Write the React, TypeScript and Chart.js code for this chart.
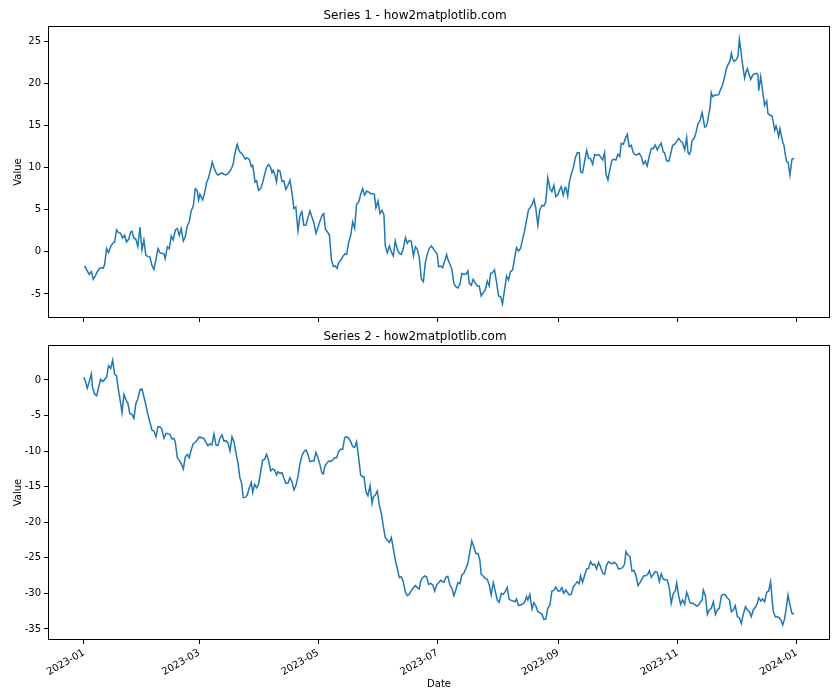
import React, { useEffect, useRef } from "react";
import { Chart, registerables } from "chart.js";

Chart.register(...registerables);

// ---- data (x = days since 2023-01-01) ----
const dateTickDays = [0, 59, 120, 181, 243, 304, 365];
const dateTickLabels = ["2023-01", "2023-03", "2023-05", "2023-07", "2023-09", "2023-11", "2024-01"];

const series1YTicks = [-5, 0, 5, 10, 15, 20, 25];
const series2YTicks = [-35, -30, -25, -20, -15, -10, -5, 0];

const series1Days = [
  0, 0.7, 1.7, 2.7, 3.8, 4.8, 5.8, 6.8, 7.9, 8.9, 9.9, 10.6, 11.6, 12.6, 13.7, 14.7, 15.7, 16.7, 17.7, 18.8,
  19.8, 20.8, 21.8, 22.9, 23.9, 24.6, 25.6, 26.6, 27.6, 28.7, 29.7, 30.7, 31.7, 32.8, 33.8, 34.8, 35.8, 36.9, 37.9, 38.9,
  39.9, 41, 41.6, 42.7, 43.7, 44.7, 45.7, 46.8, 47.8, 48.8, 49.8, 50.9, 51.9, 52.9, 53.9, 54.9, 56, 57, 58, 58.7,
  59.4, 60.8, 61.8, 62.8, 63.8, 64.9, 65.7, 66.6, 67.6, 68.6, 69.6, 70.7, 71.7, 72.7, 73.7, 74.8, 75.8, 76.5, 77.1, 77.8,
  78.5, 79.2, 79.9, 80.9, 81.9, 82.6, 83.3, 84.3, 85, 85.7, 86.4, 87, 87.6, 88.4, 89.4, 90.5, 91.5, 92.5, 93.5, 94.6,
  95.6, 96.3, 96.9, 97.6, 98.6, 99.3, 100.4, 101.4, 102.4, 103.4, 104.5, 105.5, 106.5, 107.5, 108.5, 109.6, 110.6, 111.6, 112.6, 113.7,
  114.7, 115.7, 116.7, 117.8, 118.8, 119.8, 120.8,
  121.9, 122.8, 123.6, 124.6, 125.7, 126.7, 127.7, 128.7, 129.6, 130.4, 131.5, 132.5, 133.5, 134.5, 135.6, 136.6, 137.6, 138.6, 139.6, 140.7,
  141.7, 142.7, 143.7, 144.8, 145.8, 146.8, 147.8, 148.7, 149.5, 150.6, 151.6, 152.6, 153.6, 154.3, 155.3, 156.4, 157.4, 158.4, 159.4, 160.5,
  161.5, 162.5, 163.5, 164.6, 165.6, 166.6, 167.6, 168.7, 169.7, 170.7, 171.7, 172.8, 173.8, 174.8, 175.8, 176.8, 177.9, 178.9, 179.9, 180.9,
  181.6, 182.6, 183.7,
  184.3, 185, 185.7, 186.3, 187.4, 188.4, 189.4, 190.4, 191.5, 192.5, 193.5, 194.5, 195.6, 196.6, 197.3, 198.3, 199.3, 200.3, 201.4, 202.4,
  203.4, 204.4, 205.5, 206.5, 207.5, 208.2, 209.2, 210.2, 211.3, 212.3, 213.3, 214.3, 215.4, 216.4, 217.4, 218.4, 219.5, 220.5, 221.5, 222.5,
  223.5, 224.6, 225.6, 226.6, 227.6, 228.7, 229.7, 230.4, 231.4, 232.4, 233.4, 234.5, 235.5, 236.5, 237.5, 238.6, 239.6, 240.6, 241.6, 242.7,
  243.7, 244.4, 245.4, 246.4,
  246.8, 247.7, 248.5, 249.5, 250.6, 251.6, 252.6, 253.6, 254.3, 255.3, 256.4, 257.4, 258.4, 259.4, 260.5, 261.5, 262.5, 263.5, 264.5, 265.6,
  266.6, 267.3, 268.3, 269.3, 270.4, 271.4, 272.4, 273.4, 274.4, 275.1, 276.2, 277.2, 278.2, 279.2, 280.2, 281.3, 282.3, 283.3, 284.3, 285.4,
  286.4, 287.4, 288.4, 289.5, 290.5, 291.5, 292.5, 293.6, 294.6, 295.6, 296.6, 297.3, 298.3, 299.4, 300.4, 301.4, 302.4, 303.5, 304.5, 305.5,
  306.5, 307.6, 308.6,
  309.3, 310, 310.7, 311.3, 312.4, 313.4, 314.4, 315.4, 316.5, 317.2, 317.8, 318.5, 319.2, 319.9, 320.6, 321.2, 321.9, 322.9, 324, 325,
  326, 327, 328.1, 329.1, 330.1, 330.8, 331.5, 332.2, 332.9, 333.9, 334.9, 335.6, 336.3, 337, 337.6, 338.3, 339, 339.7, 340.4, 341.4,
  342.4, 343.4, 344.5, 345.1, 345.5, 346.5, 347.5, 348.5, 349.6, 350.2, 351.3, 352.3, 353, 353.7, 354.4, 355, 355.7, 356.4, 357.1, 357.8,
  358.4, 359.1, 359.8, 360.5, 361.5, 362.5, 363.6,
];
const series1Values = [
  -1.76, -1.76, -2.27, -2.67, -2.35, -3.26, -2.87, -2.39, -2.0, -1.88, -1.96, -1.48, 0.38, -0.1, 0.61, 1.01, 1.17, 2.59, 2.27, 2.19,
  1.64, 1.96, 1.17, 1.48, 2.35, 2.43, 1.64, 1.48, 0.61, 2.94, 0.22, 1.4, -0.42, -0.57, -0.61, -1.6, -2.08, -0.89, 0.38, -0.1,
  -0.18, -0.26, -0.81, 0.61, 0.38, 1.88, 1.4, 2.59, 2.75, 1.96, 2.75, 1.28, 1.8, 3.06, 3.54, 4.84, 5.43, 7.49, 7.25, 6.15,
  6.82, 6.15, 7.02, 8.2, 8.79, 9.78, 10.65, 9.98, 9.39, 9.11, 9.23, 9.35, 9.19, 9.11, 9.27, 9.58, 10.02, 10.49, 11.44, 12.15,
  12.75, 12.15, 11.84, 11.64, 11.28, 10.97, 11.13, 11.05, 10.77, 10.1, 10.26, 9.39, 8.28, 8.44, 7.29, 7.49, 8.2, 9.15, 10.02, 10.34,
  9.98, 9.39, 9.66, 9.27, 8.28, 9.7, 9.55, 8.36, 8.4, 7.41, 7.89, 8.48, 7.02, 5.12, 5.32, 2.47, 4.25, 4.76, 3.14, 3.18,
  4.05, 4.84, 4.17, 3.38, 2.19, 2.87, 3.58,
  4.33, 4.53, 2.67, 2.39, 1.96, -0.89, -1.76, -1.68, -1.96, -1.28, -0.97, -0.57, -0.26, -0.3, 1.17, 1.96, 3.54, 2.79, 5.63, 5.91,
  6.82, 7.49, 6.74, 7.21, 7.09, 6.9, 6.9, 6.82, 5.24, 6.03, 4.53, 4.92, 4.37, 0.69, -0.1, 0.69, -0.02, -0.49, 1.28, 0.22,
  -0.18, -0.3, 0.38, 1.68, 1.01, 1.36, 1.25, -0.49, 0.61, 0.3, -0.69, -3.26, -3.54, -1.28, -0.3, 0.38, 0.69, 0.38, 0.02, -0.3,
  -1.76, -1.68, -1.88,
  -1.36, -0.89, -0.34, -0.89, -1.48, -2.08, -3.74, -4.13, -4.29, -3.89, -2.55, -2.67, -2.67, -2.27, -3.74, -3.97, -3.26, -3.66, -4.05, -4.05,
  -5.24, -4.84, -4.53, -3.46, -4.05, -2.55, -2.47, -2.15, -3.66, -5.24, -5.32, -6.19, -4.45, -2.87, -3.34, -2.35, -2.15, -0.77, 0.49, 0.1,
  0.38, 1.48, 2.47, 3.74, 4.96, 5.32, 5.71, 6.23, 5.12, 3.14, 4.96, 5.51, 5.43, 5.95, 8.79, 7.49, 7.13, 7.89, 6.54, 6.82,
  7.41, 7.73, 6.7, 7.65,
  7.61, 6.62, 8.2, 9.19, 9.98, 11.17, 11.76, 11.76, 9.47, 9.39, 10.77, 12.04, 11.09, 11.05, 10.38, 11.56, 11.44, 11.56, 11.28, 10.89,
  11.76, 9.19, 8.52, 9.78, 10.89, 10.97, 10.89, 11.56, 11.28, 12.87, 12.75, 13.42, 13.93, 12.47, 12.63, 11.76, 11.52, 11.52, 11.68, 11.28,
  10.42, 10.73, 10.18, 11.36, 12.27, 12.23, 12.67, 12.08, 12.55, 12.87, 11.84, 11.76, 10.81, 10.73, 11.56, 12.63, 12.75, 13.06, 13.46, 13.14,
  12.94, 12.08, 13.54,
  11.76, 11.56, 11.96, 13.14, 13.46, 14.13, 15.2, 15.51, 16.5, 15.71, 14.8, 14.84, 15.32, 16.3, 17.09, 18.87, 18.4, 18.56, 18.6, 18.64,
  19.27, 19.78, 20.85, 21.84, 22.35, 22.63, 23.54, 22.83, 22.59, 22.75, 23.22, 25.2, 24.01, 22.63, 21.64, 20.61, 21.32, 21.72, 21.17, 20.45,
  20.93, 21.13, 21.17, 20.93, 19.11, 20.77, 19.07, 17.37, 17.89, 16.42, 16.19, 16.11, 15.32, 14.41, 14.92, 14.45, 13.66, 14.6, 13.74, 13.02,
  12.67, 11.56, 10.69, 10.65, 9.11, 10.97, 11.09,
];

const series2Days = [
  0, 0.7, 1.7, 2.7, 3.8, 4.4, 5.5, 6.5, 7.5, 8.5, 9.6, 10.6, 11.6, 12.6, 13.7, 14.7, 15.7, 16.7, 17.4, 18.4,
  19.5, 20.5, 21.5, 22.5, 23.5, 24.6, 25.6, 26.6, 27.6, 28.7, 29.7, 30.7, 31.7, 32.8, 33.8, 34.8, 35.8, 36.9, 37.9, 38.9,
  39.9, 41, 42, 43, 44, 45.1, 46.1, 46.8, 47.8, 48.8, 49.8, 50.9, 51.9, 52.9, 53.9, 54.9, 56, 57, 58, 59,
  59.4, 60.4, 61.4, 62.5, 63.5, 64.5, 65.5, 66.6, 67.6, 68.6, 69.6, 70.7, 71.7, 72.7, 73.7, 74.8, 75.8, 76.8, 77.8, 78.9,
  79.9, 80.6, 81.6, 82.6, 83.6, 84.7, 85.7, 86.4, 87.4, 88.4, 89.4, 90.5, 91.5, 92.5, 93.5, 94.6, 95.6, 96.6, 97.6, 98.6,
  99.3, 100.4, 101.4, 102.4, 103.4, 104.5, 105.5, 106.5, 107.5, 108.5, 109.6, 110.6, 111.6, 112.6, 113.7, 114.7, 115.7, 116.7, 117.8, 118.8,
  119.8, 120.8,
  121.9, 122.6, 123.3, 124.3, 125.3, 126.3, 127.4, 128.4, 129.4, 130.4, 131.5, 132.5, 133.5, 134.5, 135.6, 136.6, 137.6, 138.6, 139.6, 140.7,
  141.7, 142.7, 143.4, 144.4, 145.4, 146.5, 147.5, 148.2, 149.2, 150.2, 151.3, 152.3, 153.3, 154.3, 155.3, 156.4, 157.4, 158.4, 159.4, 160.5,
  161.5, 162.5, 163.5, 164.6, 165.6, 166.6, 167.6, 168.7, 169.7, 170.7, 171.7, 172.4, 173.4, 174.5, 175.5, 176.5, 177.5, 178.6, 179.6, 180.6,
  181.6, 182.7, 183.7,
  184.3, 185.3, 186.3, 187.4, 188.4, 189.4, 190.4, 191.5, 192.5, 193.5, 194.5, 195.6, 196.6, 197.6, 198.6, 199.7, 200.7, 201.7, 202.7, 203.4,
  204.4, 205.5, 206.5, 207.5, 208.5, 209.6, 210.6, 211.6, 212.6, 213.7, 214.7, 215.7, 216.7, 217.7, 218.8, 219.8, 220.8, 221.5, 222.5, 223.5,
  224.6, 225.6, 226.6, 227.3, 228.3, 229.4, 230.4, 231.4, 232.4, 233.4, 234.5, 235.5, 236.5, 237.5, 238.6, 239.6, 240.6, 241.6, 242.7, 243.7,
  244.7, 245.7,
  246.8, 247.5, 248.5, 249.5, 250.6, 251.6, 252.6, 253.6, 254.3, 255.3, 256.4, 257.4, 258.4, 259.4, 260.5, 261.5, 262.5, 263.5, 264.5, 265.6,
  266.6, 267.6, 268.6, 269.7, 270.7, 271.7, 272.7, 273.8, 274.8, 275.8, 276.8, 277.5, 278.5, 279.6, 280.6, 281.6, 282.6, 283.7, 284.7, 285.7,
  286.7, 287.8, 288.8, 289.5, 290.5, 291.5, 292.5, 293.6, 294.6, 295.6, 296.6, 297.7, 298.7, 299.7, 300.7, 301.8, 302.8, 303.5, 304.5, 305.5,
  306.5, 307.6, 308.6,
  309.3, 310, 310.7, 311.7, 312.7, 313.7, 314.8, 315.8, 316.5, 317.1, 318.2, 319.2, 320.2, 321.2, 322.3, 323.3, 324.3, 325.3, 326.4, 327.4,
  328.4, 329.4, 330.5, 331.5, 332.5, 333.5, 334.6, 335.6, 336.6, 337.6, 338.7, 339.7, 340.7, 341.7, 342.7, 343.8, 344.8, 345.5, 346.5, 347.5,
  348.5, 349.6, 350.6, 351.6, 352.3, 353, 354, 355, 356, 357.1, 357.8, 358.8, 359.8, 360.5, 361.5, 362.5, 363.6,
];
const series2Values = [
  0.37, -0.14, -1.17, -0.23, 0.84, -1.08, -2.01, -2.2, -1.08, 0.09, -0.23, 0.05, 0.42, 2.01, 1.64, 2.81, 0.8, 0.61, -0.94, -2.58,
  -4.59, -2.01, -2.81, -3.28, -4.69, -4.83, -5.39, -3.28, -2.67, -1.36, -1.27, -2.34, -3.51, -4.92, -5.95, -7.03, -7.17, -7.97, -6.56, -6.56,
  -6.89, -8.2, -7.5, -7.54, -7.64, -8.29, -8.2, -8.76, -10.92, -11.29, -11.76, -12.51, -10.82, -10.45, -10.92, -9.84, -8.95, -8.76, -8.43, -8.01,
  -8.06, -8.11, -8.2, -8.76, -9.23, -8.95, -9.14, -7.59, -9.14, -9.23, -8.2, -7.73, -8.58, -8.53, -8.81, -9.98, -7.97, -8.67, -10.17, -11.72,
  -13.82, -14.29, -16.54, -16.5, -16.17, -15.14, -14.39, -15.79, -14.67, -15.14, -14.67, -12.89, -11.25, -11.15, -10.45, -11.39, -12.79, -12.51, -12.65, -13.36,
  -12.89, -13.12, -13.03, -13.82, -14.53, -14.48, -13.73, -14.29, -15.46, -14.85, -13.59, -11.81, -10.68, -10.07, -9.84, -10.45, -11.48, -11.39, -11.39, -10.17,
  -10.92, -11.86,
  -13.12, -13.21, -12.18, -11.72, -11.39, -11.48, -11.25, -10.92, -10.92, -10.07, -9.75, -9.75, -8.11, -7.97, -8.2, -8.67, -9.37, -9.47, -8.67, -11.01,
  -13.36, -13.59, -13.59, -15.7, -16.26, -14.85, -17.34, -16.4, -16.17, -15.6, -17.67, -18.74, -20.62, -22.17, -22.49, -22.82, -22.17, -23.66, -25.3, -26.57,
  -27.79, -27.65, -28.35, -29.85, -30.32, -30.13, -29.62, -29.19, -28.91, -29.19, -29.38, -28.26, -27.79, -27.55, -27.69, -28.73, -28.59, -28.82, -29.66, -28.82,
  -28.49, -28.16, -28.35,
  -28.44, -27.74, -27.6, -28.82, -29.29, -30.32, -29.52, -28.49, -28.63, -27.41, -27.18, -26.48, -25.77, -24.13, -22.63, -23.52, -24.41, -24.37, -25.3, -27.32,
  -27.55, -27.88, -28.02, -28.73, -30.22, -28.49, -29.66, -30.93, -31.26, -29.99, -30.13, -29.76, -29.15, -30.79, -31.02, -31.07, -31.16, -30.79, -31.72, -31.63,
  -31.49, -31.26, -30.46, -30.93, -30.13, -32.19, -31.3, -31.77, -32.57, -32.71, -32.94, -33.65, -33.6, -32.1, -31.63, -29.66, -29.57, -29.1, -29.66, -29.66,
  -29.19, -29.99,
  -29.52, -29.85, -30.22, -30.13, -29.05, -28.73, -28.35, -28.63, -27.51, -28.44, -27.41, -26.57, -26.48, -25.54, -26.01, -25.91, -26.57, -25.63, -26.24, -27.18,
  -27.32, -26.01, -25.54, -25.77, -25.82, -25.63, -25.91, -26.57, -26.48, -26.38, -25.91, -24.13, -24.6, -24.84, -26.85, -26.76, -27.41, -28.91, -28.49, -27.98,
  -27.51, -27.51, -27.23, -26.8, -27.74, -27.32, -26.95, -27.04, -28.35, -27.23, -27.98, -28.07, -28.12, -29.19, -31.4, -29.99, -29.66, -28.54, -30.32, -31.54,
  -30.93, -31.54, -29.85,
  -30.32, -31.07, -31.4, -31.4, -31.54, -31.77, -31.63, -31.16, -30.93, -29.52, -30.32, -32.94, -32.33, -32.1, -31.16, -32.94, -32.33, -32.1, -30.32, -30.13,
  -30.22, -30.6, -30.93, -32.57, -32.33, -31.72, -33.27, -33.41, -34.21, -32.94, -31.87, -32.33, -32.57, -33.27, -32.33, -31.96, -31.4, -30.6, -31.07, -30.79,
  -31.16, -29.85, -29.66, -28.35, -30.69, -32.57, -33.27, -33.27, -33.41, -33.88, -34.44, -33.51, -31.72, -30.22, -31.63, -32.8, -32.9,
];

const FONT_FAMILY = "'DejaVu Sans', sans-serif";
const LINE_COLOR = "#1f77b4";

const framePlugin = {
  id: "axesFrame",
  afterDraw(chart: any) {
    const { ctx, chartArea } = chart;
    ctx.save();
    ctx.strokeStyle = "#000";
    ctx.lineWidth = 1;
    const l = Math.round(chartArea.left) + 0.5;
    const t = Math.round(chartArea.top) + 0.5;
    const r = Math.round(chartArea.right) - 0.5;
    const b = Math.round(chartArea.bottom) - 0.5;
    ctx.strokeRect(l, t, r - l, b - t);
    ctx.restore();
  },
};

function clearScalePadding(s: any) {
  s.paddingTop = 0;
  s.paddingBottom = 0;
  s.paddingLeft = 0;
  s.paddingRight = 0;
}

function buildConfig(p: {
  days: number[];
  values: number[];
  yMin: number;
  yMax: number;
  yTicks: number[];
  title: string;
  titlePadding: { top: number; bottom: number };
  showDates: boolean;
  xHeight: number;
}) {
  return {
    type: "line",
    data: {
      datasets: [
        {
          data: p.days.map((d, i) => ({ x: d, y: p.values[i] })),
          borderColor: LINE_COLOR,
          borderWidth: 1.5,
          pointRadius: 0,
          tension: 0,
          fill: false,
        },
      ],
    },
    options: {
      animation: false,
      responsive: false,
      events: [],
      layout: { padding: { left: 0, right: 10, top: 0, bottom: 0 } },
      plugins: {
        legend: { display: false },
        tooltip: { enabled: false },
        title: {
          display: true,
          text: p.title,
          color: "#000",
          font: { family: FONT_FAMILY, size: 12, weight: "normal" },
          padding: p.titlePadding,
        },
      },
      scales: {
        x: {
          type: "linear",
          min: -18.4,
          max: 382,
          afterBuildTicks: (s: any) => {
            s.ticks = dateTickDays.map((v) => ({ value: v }));
          },
          afterFit: (s: any) => {
            s.height = p.xHeight;
            clearScalePadding(s);
          },
          border: { display: false },
          grid: { display: true, drawOnChartArea: false, drawTicks: true, tickLength: 4, color: "#000", lineWidth: 1 },
          ticks: {
            display: p.showDates,
            autoSkip: false,
            minRotation: 30,
            maxRotation: 30,
            padding: 3,
            color: "#000",
            font: { family: FONT_FAMILY, size: 10 },
            callback: (_v: any, i: number) => dateTickLabels[i],
          },
          title: {
            display: p.showDates,
            text: "Date",
            color: "#000",
            font: { family: FONT_FAMILY, size: 10 },
            padding: { top: 0, bottom: 10 },
          },
        },
        y: {
          type: "linear",
          min: p.yMin,
          max: p.yMax,
          afterBuildTicks: (s: any) => {
            s.ticks = p.yTicks.map((v) => ({ value: v }));
          },
          afterFit: (s: any) => {
            s.width = 48;
            clearScalePadding(s);
          },
          border: { display: false },
          grid: { display: true, drawOnChartArea: false, drawTicks: true, tickLength: 4, color: "#000", lineWidth: 1 },
          ticks: {
            padding: 3,
            color: "#000",
            font: { family: FONT_FAMILY, size: 10 },
            callback: (v: any) => String(v),
          },
          title: {
            display: true,
            text: "Value",
            color: "#000",
            font: { family: FONT_FAMILY, size: 10 },
            padding: { top: 12, bottom: 0 },
          },
        },
      },
    },
    plugins: [framePlugin],
  };
}

export default function App() {
  const topRef = useRef<HTMLCanvasElement | null>(null);
  const bottomRef = useRef<HTMLCanvasElement | null>(null);

  useEffect(() => {
    const charts: Chart[] = [];
    if (topRef.current) {
      charts.push(
        new Chart(
          topRef.current,
          buildConfig({
            days: series1Days,
            values: series1Values,
            yMin: -7.85,
            yMax: 26.78,
            yTicks: series1YTicks,
            title: "Series 1 - how2matplotlib.com",
            titlePadding: { top: 9, bottom: 2.6 },
            showDates: false,
            xHeight: 4,
          }) as any
        )
      );
    }
    if (bottomRef.current) {
      charts.push(
        new Chart(
          bottomRef.current,
          buildConfig({
            days: series2Days,
            values: series2Values,
            yMin: -36.55,
            yMax: 4.92,
            yTicks: series2YTicks,
            title: "Series 2 - how2matplotlib.com",
            titlePadding: { top: 8, bottom: 0.6 },
            showDates: true,
            xHeight: 60,
          }) as any
        )
      );
    }
    return () => charts.forEach((c) => c.destroy());
  }, []);

  return (
    <div style={{ position: "absolute", left: 0, top: 0, width: 840, height: 700, background: "#fff" }}>
      <canvas ref={topRef} width={840} height={322} style={{ position: "absolute", left: 0, top: 0, width: 840, height: 322 }} />
      <canvas ref={bottomRef} width={840} height={378} style={{ position: "absolute", left: 0, top: 322, width: 840, height: 378 }} />
    </div>
  );
}
